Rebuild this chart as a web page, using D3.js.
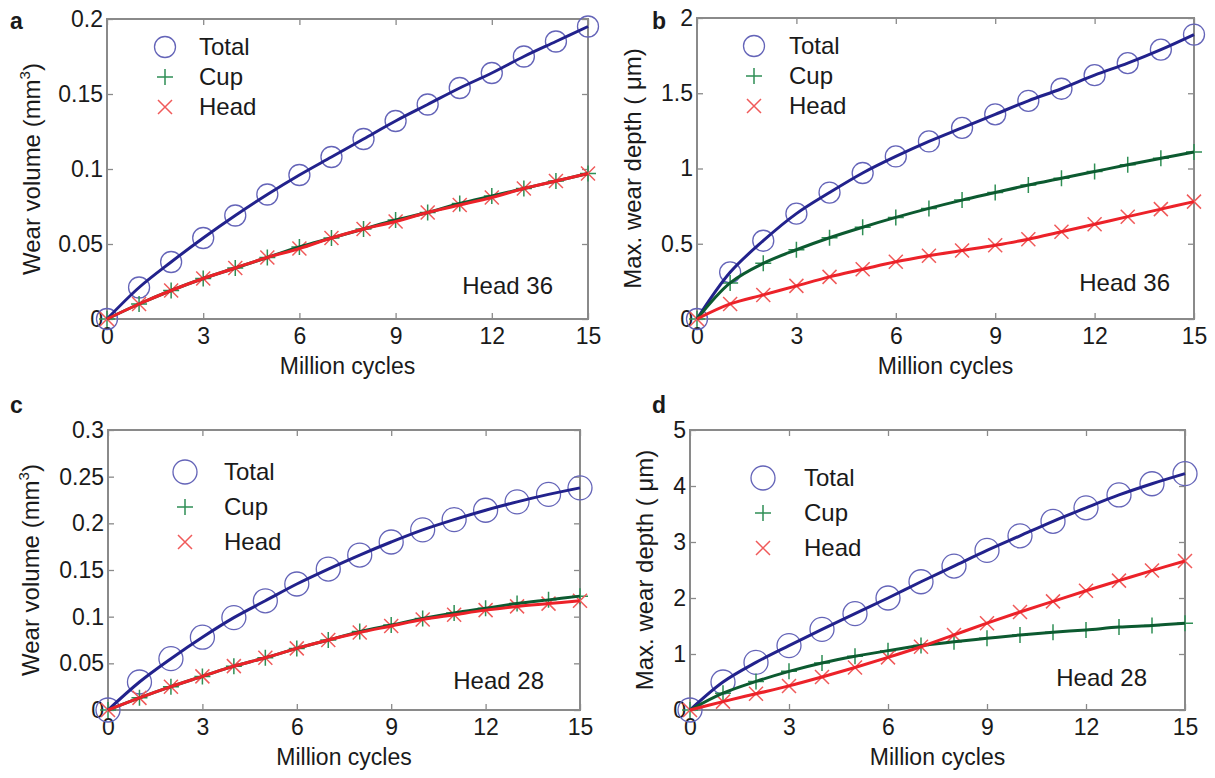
<!DOCTYPE html>
<html>
<head>
<meta charset="utf-8">
<script src="https://cdn.jsdelivr.net/npm/d3@7"></script>
<style>
  body { margin: 0; background: #fff; }
  svg { display: block; font-family: "Liberation Sans", Arial, sans-serif; }
</style>
</head>
<body>
<svg id="chart" width="1215" height="778"></svg>
<script>
// million cycles
const cycles = [0, 1, 2, 3, 4, 5, 6, 7, 8, 9, 10, 11, 12, 13, 14, 15];

// a: wear volume, head 36
const aTotal = [0, 0.021, 0.038, 0.054, 0.069, 0.083, 0.096, 0.108, 0.120, 0.132, 0.143, 0.154, 0.164, 0.175, 0.185, 0.195];
const aCup = [0, 0.010, 0.019, 0.027, 0.034, 0.041, 0.048, 0.054, 0.060, 0.066, 0.071, 0.077, 0.082, 0.087, 0.092, 0.097];
const aHead = [0, 0.010, 0.019, 0.027, 0.034, 0.041, 0.047, 0.054, 0.060, 0.065, 0.071, 0.076, 0.081, 0.087, 0.092, 0.097];

// b: max wear depth, head 36
const bTotal = [0, 0.31, 0.52, 0.70, 0.84, 0.97, 1.08, 1.18, 1.27, 1.36, 1.45, 1.53, 1.62, 1.70, 1.79, 1.89];
const bCup = [0, 0.24, 0.37, 0.46, 0.54, 0.61, 0.675, 0.735, 0.79, 0.84, 0.89, 0.935, 0.98, 1.025, 1.068, 1.11];
const bHead = [0, 0.10, 0.16, 0.22, 0.28, 0.33, 0.38, 0.42, 0.455, 0.49, 0.53, 0.58, 0.63, 0.68, 0.73, 0.78];

// c: wear volume, head 28
const cTotal = [0, 0.030, 0.055, 0.078, 0.099, 0.117, 0.135, 0.151, 0.166, 0.180, 0.193, 0.204, 0.214, 0.223, 0.231, 0.238];
const cCup = [0, 0.013, 0.025, 0.036, 0.047, 0.056, 0.066, 0.075, 0.084, 0.091, 0.098, 0.104, 0.109, 0.114, 0.118, 0.122];
const cHead = [0, 0.013, 0.025, 0.036, 0.047, 0.056, 0.066, 0.075, 0.083, 0.090, 0.097, 0.102, 0.107, 0.111, 0.114, 0.117];

// d: max wear depth, head 28
const dTotal = [0, 0.50, 0.85, 1.15, 1.44, 1.72, 2.00, 2.29, 2.57, 2.85, 3.11, 3.37, 3.61, 3.84, 4.04, 4.22];
const dCup = [0, 0.30, 0.51, 0.69, 0.84, 0.96, 1.06, 1.15, 1.22, 1.28, 1.34, 1.39, 1.43, 1.48, 1.51, 1.55];
const dHead = [0, 0.15, 0.29, 0.43, 0.59, 0.76, 0.94, 1.13, 1.34, 1.55, 1.75, 1.94, 2.13, 2.31, 2.49, 2.66];

const xTicks = [0, 3, 6, 9, 12, 15];
const yTicksA = [0, 0.05, 0.1, 0.15, 0.2];
const yTicksB = [0, 0.5, 1, 1.5, 2];
const yTicksC = [0, 0.05, 0.1, 0.15, 0.2, 0.25, 0.3];
const yTicksD = [0, 1, 2, 3, 4, 5];
const seriesNames = ["Total", "Cup", "Head"];

const style = {
  Total: { line: "#22228c", mark: "#6464b8" },
  Cup: { line: "#0c5a30", mark: "#2f8f55" },
  Head: { line: "#ec2229", mark: "#f05a5a" },
};

const panels = [
  {
    letter: "a", letterX: 10, letterY: 29,
    box: { left: 107, right: 588, top: 19, bottom: 319 },
    yMax: 0.2, yTicks: yTicksA, ylabel: "volume", ylabelX: 32, note: "Head 36",
    series: [aTotal, aCup, aHead],
    legend: { x: 165, y: 47, dy: 30, tx: 34 }, noteX: 553, noteY: 286, r: 10.5,
  },
  {
    letter: "b", letterX: 652, letterY: 29,
    box: { left: 697, right: 1194, top: 18, bottom: 319 },
    yMax: 2, yTicks: yTicksB, ylabel: "depth", ylabelX: 633, note: "Head 36",
    series: [bTotal, bCup, bHead],
    legend: { x: 754, y: 46, dy: 30, tx: 35 }, noteX: 1170, noteY: 283, r: 10.5,
  },
  {
    letter: "c", letterX: 10, letterY: 413,
    box: { left: 108, right: 580, top: 430, bottom: 710 },
    yMax: 0.3, yTicks: yTicksC, ylabel: "volume", ylabelX: 31, note: "Head 28",
    series: [cTotal, cCup, cHead],
    legend: { x: 185, y: 472, dy: 35, tx: 39 }, noteX: 544, noteY: 681, r: 12,
  },
  {
    letter: "d", letterX: 652, letterY: 413,
    box: { left: 690, right: 1185, top: 430, bottom: 710 },
    yMax: 5, yTicks: yTicksD, ylabel: "depth", ylabelX: 645, note: "Head 28",
    series: [dTotal, dCup, dHead],
    legend: { x: 763, y: 478, dy: 35, tx: 41 }, noteX: 1147, noteY: 678, r: 12,
  },
];

const svg = d3.select("#chart");
const tickFont = 23;
const labelFont = 24;

function drawMarker(g, name, cx, cy, r) {
  const c = style[name].mark;
  if (name === "Total") {
    g.append("circle").attr("cx", cx).attr("cy", cy).attr("r", r)
      .attr("fill", "none").attr("stroke", c).attr("stroke-width", 1.3);
  } else if (name === "Cup") {
    const s = 8;
    g.append("path").attr("d", `M${cx - s},${cy}H${cx + s}M${cx},${cy - s}V${cy + s}`)
      .attr("stroke", c).attr("stroke-width", 1.5).attr("fill", "none");
  } else {
    const s = 7;
    g.append("path").attr("d", `M${cx - s},${cy - s}L${cx + s},${cy + s}M${cx - s},${cy + s}L${cx + s},${cy - s}`)
      .attr("stroke", c).attr("stroke-width", 1.5).attr("fill", "none");
  }
}

function drawPanel(p) {
  const { left, right, top, bottom } = p.box;
  const g = svg.append("g");

  const x = d3.scaleLinear().domain([0, 15]).range([left, right]);
  const y = d3.scaleLinear().domain([0, p.yMax]).range([bottom, top]);

  // axes with inward ticks on all four sides
  const fmt = (d) => String(d);
  const bottomAxis = g.append("g").attr("transform", `translate(0,${bottom})`)
    .call(d3.axisBottom(x).tickValues(xTicks).tickFormat(fmt).tickSizeInner(-6).tickSizeOuter(0).tickPadding(9));
  const leftAxis = g.append("g").attr("transform", `translate(${left},0)`)
    .call(d3.axisLeft(y).tickValues(p.yTicks).tickFormat(fmt).tickSizeInner(-6).tickSizeOuter(0).tickPadding(4));
  const topAxis = g.append("g").attr("transform", `translate(0,${top})`)
    .call(d3.axisTop(x).tickValues(xTicks).tickFormat("").tickSizeInner(-6).tickSizeOuter(0));
  const rightAxis = g.append("g").attr("transform", `translate(${right},0)`)
    .call(d3.axisRight(y).tickValues(p.yTicks).tickFormat("").tickSizeInner(-6).tickSizeOuter(0));

  [bottomAxis, leftAxis, topAxis, rightAxis].forEach((a) => {
    a.select(".domain").remove();
    a.selectAll(".tick line").attr("stroke", "#8a8a8a").attr("stroke-width", 1.3);
    a.selectAll(".tick text").attr("font-size", tickFont).attr("fill", "#1a1a1a")
      .attr("font-family", "Liberation Sans, Arial, sans-serif");
  });

  g.append("rect")
    .attr("x", left).attr("y", top)
    .attr("width", right - left).attr("height", bottom - top)
    .attr("fill", "none").attr("stroke", "#8a8a8a").attr("stroke-width", 2);

  // axis titles
  g.append("text")
    .attr("x", (left + right) / 2).attr("y", bottom + 55)
    .attr("text-anchor", "middle").attr("font-size", tickFont).attr("fill", "#1a1a1a")
    .text("Million cycles");

  const yl = g.append("text")
    .attr("transform", `translate(${p.ylabelX},${(top + bottom) / 2}) rotate(-90)`)
    .attr("dy", "0.35em")
    .attr("text-anchor", "middle").attr("font-size", labelFont).attr("fill", "#1a1a1a");
  if (p.ylabel === "volume") {
    yl.append("tspan").text("Wear volume (mm");
    yl.append("tspan").attr("dy", -10).attr("font-size", 15).text("3");
    yl.append("tspan").attr("dy", 10).text(")");
  } else {
    yl.text("Max. wear depth ( \u03bcm)");
  }

  // panel letter
  g.append("text")
    .attr("x", p.letterX).attr("y", p.letterY)
    .attr("font-size", 23).attr("font-weight", "bold").attr("fill", "#1a1a1a")
    .text(p.letter);

  // markers then fitted lines
  const line = d3.line()
    .x((d, i) => x(cycles[i]))
    .y((d) => y(d))
    .curve(d3.curveCatmullRom.alpha(0.5));

  seriesNames.forEach((name, k) => {
    const mg = g.append("g");
    p.series[k].forEach((v, i) => drawMarker(mg, name, x(cycles[i]), y(v), p.r));
  });
  seriesNames.forEach((name, k) => {
    g.append("path")
      .datum(p.series[k])
      .attr("d", line)
      .attr("fill", "none")
      .attr("stroke", style[name].line)
      .attr("stroke-width", 3);
  });

  // legend
  seriesNames.forEach((name, k) => {
    const ly = p.legend.y + k * p.legend.dy;
    drawMarker(g, name, p.legend.x, ly, p.r);
    g.append("text")
      .attr("x", p.legend.x + p.legend.tx).attr("y", ly)
      .attr("dy", "0.35em")
      .attr("font-size", labelFont).attr("fill", "#1a1a1a")
      .text(name);
  });

  g.append("text")
    .attr("x", p.noteX).attr("y", p.noteY)
    .attr("dy", "0.35em").attr("text-anchor", "end")
    .attr("font-size", labelFont).attr("fill", "#1a1a1a")
    .text(p.note);
}

panels.forEach(drawPanel);
</script>
</body>
</html>
